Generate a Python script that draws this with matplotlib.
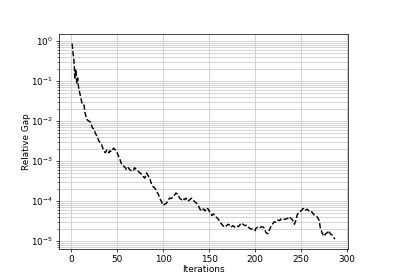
import matplotlib
matplotlib.use("Agg")
import matplotlib.pyplot as plt

# Relative gap per iteration
iters = [1, 2, 3, 4, 5, 6, 7, 8, 10, 12, 14, 15, 17, 19, 21, 23, 25, 26, 28, 30,
         33, 35, 37, 39, 41, 42, 44, 46, 48, 50, 51, 53, 55, 57, 59, 60, 62, 64, 66, 68,
         69, 71, 73, 75, 77, 78, 80, 82, 84, 86, 87, 89, 91, 93, 95, 96, 98, 100, 102, 104,
         105, 107, 109, 111, 113, 114, 116, 118, 120, 122, 123, 125, 127, 129, 131, 132, 134, 136, 138, 140,
         142, 144, 146, 147, 149, 151, 153, 155, 156, 158, 160, 162, 164, 165, 167, 169, 171, 173, 174, 176,
         178, 180, 182, 183, 185, 187, 189, 191, 192, 194, 196, 198, 200, 201, 203, 205, 207, 209, 210, 212,
         214, 216, 218, 219, 221, 223, 225, 227, 228, 230, 232, 234, 236, 237, 239, 241, 243, 245, 246, 248,
         250, 252, 254, 255, 257, 259, 261, 263, 264, 266, 268, 270, 271, 273, 275, 277, 279, 280, 282, 284,
         286, 287]

gap = [0.87, 0.5, 0.32, 0.12, 0.2, 0.09, 0.12, 0.07, 0.043, 0.026, 0.025, 0.016, 0.011, 0.010, 0.0095, 0.0068, 0.0062, 0.0051, 0.0042, 0.0032,
       0.0026, 0.0019, 0.0016, 0.0019, 0.0016, 0.0018, 0.0017, 0.0021, 0.0019, 0.0016, 0.0014, 0.0011, 8.1e-4, 7.4e-4, 6.8e-4, 6.0e-4, 6.8e-4, 6.0e-4, 5.5e-4, 6.0e-4,
       6.8e-4, 6.0e-4, 5.5e-4, 5.0e-4, 4.6e-4, 4.2e-4, 3.7e-4, 5.0e-4, 4.2e-4, 3.4e-4, 2.8e-4, 2.3e-4, 2.1e-4, 1.7e-4, 1.45e-4, 1.2e-4, 9.8e-5, 7.8e-5, 8.3e-5, 8.9e-5,
       9.8e-5, 1.17e-4, 1.15e-4, 1.29e-4, 1.45e-4, 1.58e-4, 1.45e-4, 1.17e-4, 1.07e-4, 1.17e-4, 1.07e-4, 1.17e-4, 9.8e-5, 1.07e-4, 1.17e-4, 1.07e-4, 9.8e-5, 8.9e-5, 8.0e-5, 6.3e-5,
       5.6e-5, 6.3e-5, 5.6e-5, 6.6e-5, 6.3e-5, 5.1e-5, 4.3e-5, 4.7e-5, 4.3e-5, 3.9e-5, 3.5e-5, 2.9e-5, 2.6e-5, 2.4e-5, 2.2e-5, 2.4e-5, 2.6e-5, 2.4e-5, 2.2e-5, 2.4e-5,
       2.2e-5, 2.4e-5, 2.25e-5, 2.4e-5, 2.8e-5, 2.6e-5, 2.4e-5, 2.45e-5, 2.2e-5, 2.1e-5, 1.95e-5, 1.95e-5, 1.8e-5, 2.05e-5, 2.2e-5, 2.1e-5, 2.25e-5, 2.2e-5, 2.1e-5, 1.6e-5,
       1.5e-5, 1.95e-5, 2.4e-5, 2.6e-5, 3.0e-5, 2.9e-5, 3.3e-5, 3.2e-5, 3.5e-5, 3.3e-5, 3.5e-5, 3.5e-5, 3.7e-5, 4.0e-5, 3.7e-5, 3.3e-5, 2.6e-5, 3.5e-5, 4.5e-5, 5.1e-5,
       5.6e-5, 6.3e-5, 6.6e-5, 5.9e-5, 6.2e-5, 5.5e-5, 5.6e-5, 4.9e-5, 4.5e-5, 4.3e-5, 3.9e-5, 3.2e-5, 2.2e-5, 1.6e-5, 1.3e-5, 1.5e-5, 1.6e-5, 1.8e-5, 1.5e-5, 1.4e-5,
       1.2e-5, 1.1e-5]

# the reference looks like a shrunken default figure, so draw at a low dpi
dpi = 64
fig = plt.figure(figsize=(400 / dpi, 280 / dpi), dpi=dpi)
ax = fig.add_axes([0.1475, 0.111, 0.7225, 0.768])

ax.plot(iters, gap, 'k--', lw=1.6)
ax.set_yscale('log')
ax.grid(True, which='both', color='#cfcfcf', lw=1.0)

ax.set_xlabel('Iterations', labelpad=1)
ax.set_ylabel('Relative Gap', labelpad=0)

fig.savefig('out.png', dpi=dpi)
